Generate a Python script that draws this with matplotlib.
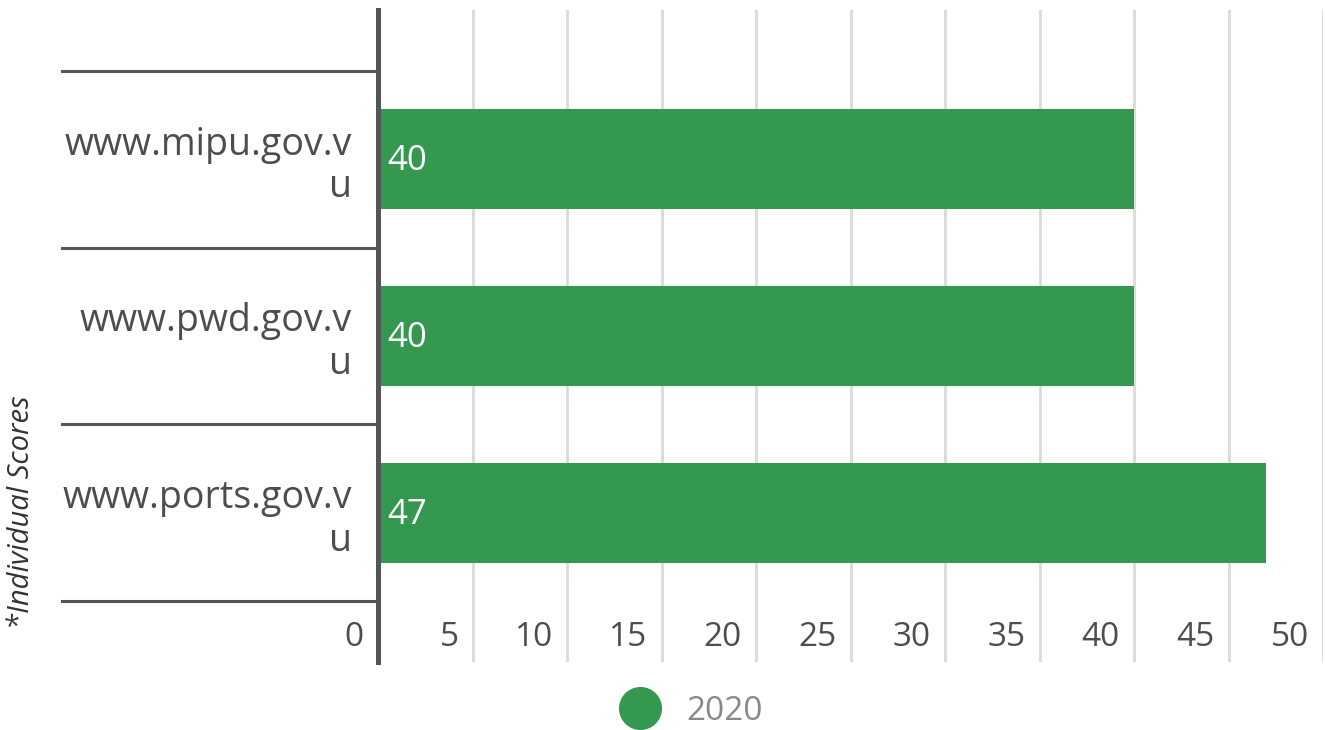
import matplotlib
matplotlib.use("Agg")
import matplotlib.pyplot as plt
import matplotlib.transforms as mtransforms
from matplotlib.lines import Line2D

plt.rcParams['font.family'] = ['Open Sans', 'DejaVu Sans']

sites = ["www.mipu.gov.v\nu", "www.pwd.gov.v\nu", "www.ports.gov.v\nu"]
scores = [40, 40, 47]
xticks = [0, 5, 10, 15, 20, 25, 30, 35, 40, 45, 50]
series_name = "2020"

green = '#34994e'
dark = '#555555'
text_col = '#4d4d4d'

fig = plt.figure(figsize=(13.25, 7.3), dpi=100)
ax = fig.add_axes([378 / 1325, 68 / 730, 945 / 1325, 652 / 730])

ypos = list(range(len(sites)))
ax.barh(ypos, scores, height=0.56, color=green, zorder=3)

ax.set_xlim(0, 50)
ax.set_ylim(len(sites) - 0.5 + 0.342, -0.5 - 0.342)

# gridlines (not at zero, the axis line sits there)
for x in xticks[1:]:
    ax.axvline(x, color='#dcdcdc', lw=2.2, zorder=1)

ax.set_xticks([])
ax.set_yticks(ypos)
ax.set_yticklabels(sites, fontsize=27, color=text_col, linespacing=1.15)
ax.tick_params(axis='y', length=0, pad=19)

for s in ['top', 'right', 'bottom']:
    ax.spines[s].set_visible(False)
ax.spines['left'].set_color(dark)
ax.spines['left'].set_linewidth(3.6)
ax.spines['left'].set_zorder(5)

# x tick labels sit inside the plot, just left of each gridline
off = mtransforms.ScaledTranslation(-14 / 100, 0, fig.dpi_scale_trans)
trans = mtransforms.blended_transform_factory(ax.transData, ax.transAxes) + off
for x in xticks:
    ax.text(x, 0.038, str(x), transform=trans, ha='right', va='center',
            fontsize=24, color=text_col)

# category separators extending left of the axis
sep_trans = mtransforms.blended_transform_factory(ax.transAxes, ax.transData)
for b in [i - 0.5 for i in range(len(sites) + 1)]:
    ax.plot([-0.334, 0], [b, b], color=dark, lw=2.2, transform=sep_trans,
            clip_on=False, zorder=4)

# value labels
lab_off = mtransforms.ScaledTranslation(9 / 100, -2 / 100, fig.dpi_scale_trans)
for y, v in zip(ypos, scores):
    ax.text(0, y, str(v), transform=ax.transData + lab_off, ha='left',
            va='center', fontsize=25, color='white', zorder=6)

fig.text(22 / 1325, 1 - 512 / 730, "*Individual Scores", rotation=90,
         ha='center', va='center', fontsize=21, style='italic', color='#333333')

handle = Line2D([], [], marker='o', linestyle='none', markersize=30,
                markerfacecolor=green, markeredgecolor=green)
leg = fig.legend([handle], [series_name], loc='center',
                 bbox_to_anchor=(0.517, 0.026), frameon=False, fontsize=24,
                 handletextpad=0.4, borderpad=0)
for t in leg.get_texts():
    t.set_color('#888888')

fig.savefig('out.png', dpi=100)
